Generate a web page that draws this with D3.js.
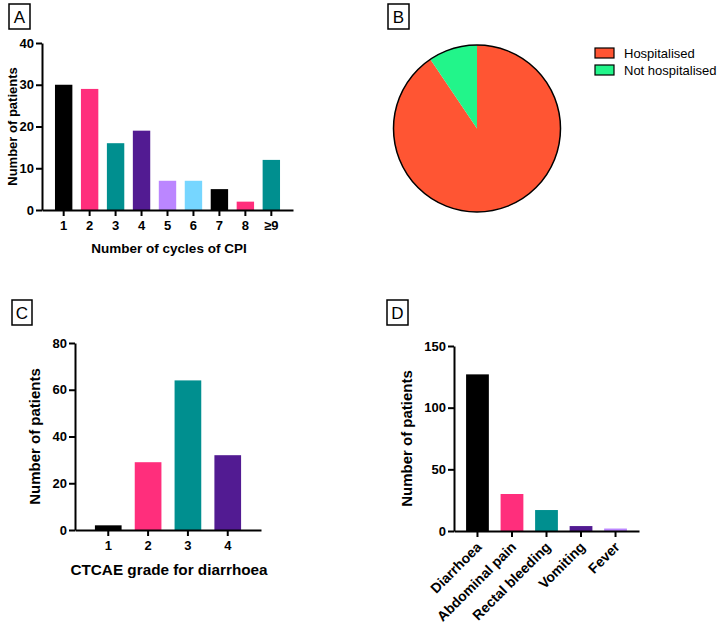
<!DOCTYPE html>
<html>
<head>
<meta charset="utf-8">
<script src="https://cdn.jsdelivr.net/npm/d3@7"></script>
<style>
  html, body { margin: 0; padding: 0; background: #fff; }
  svg { display: block; font-family: "Liberation Sans", Arial, sans-serif; }
  .tick text { font-weight: bold; fill: #000; }
  .ttl { font-weight: bold; fill: #000; }
</style>
</head>
<body>
<svg id="chart" width="719" height="624"></svg>
<script>
// Panel A: cycles of CPI
const cycleCats = ["1", "2", "3", "4", "5", "6", "7", "8", "≥9"];
const cycleVals = [30, 29, 16, 19, 7, 7, 5, 2, 12];
// Panel B: hospitalisation
const hospCats = ["Hospitalised", "Not hospitalised"];
const hospVals = [115, 12];
// Panel C: CTCAE grade
const gradeCats = ["1", "2", "3", "4"];
const gradeVals = [2, 29, 64, 32];
// Panel D: symptoms
const symptomCats = ["Diarrhoea", "Abdominal pain", "Rectal bleeding", "Vomiting", "Fever"];
const symptomVals = [127, 30, 17, 4, 2];

const BLACK = "#000000", PINK = "#ff2e7c", TEAL = "#008f8f", PURPLE = "#521b92",
      LAVENDER = "#bb86ff", SKY = "#76d6ff";
const cycleColors = [BLACK, PINK, TEAL, PURPLE, LAVENDER, SKY, BLACK, PINK, TEAL];
const gradeColors = [BLACK, PINK, TEAL, PURPLE];
const symptomColors = [BLACK, PINK, TEAL, PURPLE, LAVENDER];
const pieColors = ["#ff5533", "#22f58a"];

const svg = d3.select("#chart");

function panelLabel(x, y, w, h, letter) {
  const g = svg.append("g");
  g.append("rect").attr("x", x).attr("y", y).attr("width", w).attr("height", h)
    .attr("fill", "none").attr("stroke", "#000").attr("stroke-width", 1.5);
  g.append("text").attr("x", x + w / 2).attr("y", y + h / 2 + 6)
    .attr("text-anchor", "middle").attr("font-size", 17).text(letter);
}

// generic bar panel
function barPanel(o) {
  const g = svg.append("g");
  const x = d3.scaleBand().domain(o.cats).range([o.x0, o.x1]).paddingInner(o.pad).paddingOuter(o.outer);
  const y = d3.scaleLinear().domain([0, o.ymax]).range([o.y0, o.y1]);

  g.selectAll("rect.bar").data(o.vals).join("rect")
    .attr("class", "bar")
    .attr("x", (d, i) => x(o.cats[i]))
    .attr("width", x.bandwidth())
    .attr("y", d => y(d))
    .attr("height", d => o.y0 - y(d))
    .attr("fill", (d, i) => o.colors[i]);

  const ya = g.append("g").attr("transform", `translate(${o.x0},0)`)
    .call(d3.axisLeft(y).tickValues(o.yticks).tickSize(6).tickSizeOuter(0).tickPadding(2));
  ya.selectAll("text").attr("font-size", o.tickFs);
  const xa = g.append("g").attr("transform", `translate(0,${o.y0})`)
    .call(d3.axisBottom(x).tickSize(6).tickSizeOuter(0).tickPadding(5));
  xa.selectAll("text").attr("font-size", o.tickFs);
  g.selectAll(".domain, .tick line").attr("stroke", "#000").attr("stroke-width", 2);

  if (o.rotate) {
    xa.selectAll("text")
      .attr("text-anchor", "end")
      .attr("x", 0).attr("y", 0).attr("dy", 0)
      .attr("font-size", o.rotFs)
      .attr("transform", "translate(5,17) rotate(-45)");
  }

  g.append("text").attr("class", "ttl")
    .attr("transform", `translate(${o.ytx},${(o.y0 + o.y1) / 2}) rotate(-90)`)
    .attr("text-anchor", "middle").attr("font-size", o.yFs).text(o.ytitle);
  if (o.xtitle) {
    g.append("text").attr("class", "ttl")
      .attr("x", o.xtx).attr("y", o.xty)
      .attr("text-anchor", "middle").attr("font-size", o.xFs).text(o.xtitle);
  }
}

// A
panelLabel(9, 4, 21, 25, "A");
barPanel({
  cats: cycleCats, vals: cycleVals, colors: cycleColors,
  x0: 42, x1: 293, y0: 210, y1: 43, ymax: 40, yticks: [0, 10, 20, 30, 40],
  pad: 0.33, outer: 0.5, tickFs: 13, yFs: 13, xFs: 13.5,
  ytitle: "Number of patients", ytx: 17,
  xtitle: "Number of cycles of CPI", xtx: 169, xty: 253
});

// B
panelLabel(388, 4, 21, 25, "B");
{
  const g = svg.append("g").attr("transform", "translate(477,128.5)");
  const pie = d3.pie().sort(null).startAngle(0).endAngle(2 * Math.PI);
  const arc = d3.arc().innerRadius(0).outerRadius(83.5);
  const arcs = pie(hospVals);
  g.selectAll("path").data(arcs).join("path")
    .attr("d", arc).attr("fill", (d, i) => pieColors[i]);
  g.append("circle").attr("r", 83.5).attr("fill", "none")
    .attr("stroke", "#000").attr("stroke-width", 1.5);

  const lg = svg.append("g").attr("transform", "translate(595,48)");
  hospCats.forEach((c, i) => {
    lg.append("rect").attr("x", 0).attr("y", i * 17).attr("width", 19).attr("height", 10)
      .attr("fill", pieColors[i]).attr("stroke", "#000").attr("stroke-width", 1.2);
    lg.append("text").attr("x", 29).attr("y", i * 17 + 10).attr("font-size", 13).text(c);
  });
}

// C
panelLabel(12, 300, 20, 25, "C");
barPanel({
  cats: gradeCats, vals: gradeVals, colors: gradeColors,
  x0: 75, x1: 261, y0: 530, y1: 343, ymax: 80, yticks: [0, 20, 40, 60, 80],
  pad: 0.33, outer: 0.5, tickFs: 13, yFs: 15, xFs: 15.3,
  ytitle: "Number of patients", ytx: 40,
  xtitle: "CTCAE grade for diarrhoea", xtx: 169, xty: 575
});

// D
panelLabel(387, 300, 21, 25, "D");
barPanel({
  cats: symptomCats, vals: symptomVals, colors: symptomColors,
  x0: 454, x1: 639, y0: 531, y1: 346, ymax: 150, yticks: [0, 50, 100, 150],
  pad: 0.34, outer: 0.35, tickFs: 13, rotFs: 14, yFs: 15, rotate: true,
  ytitle: "Number of patients", ytx: 412
});
</script>
</body>
</html>
